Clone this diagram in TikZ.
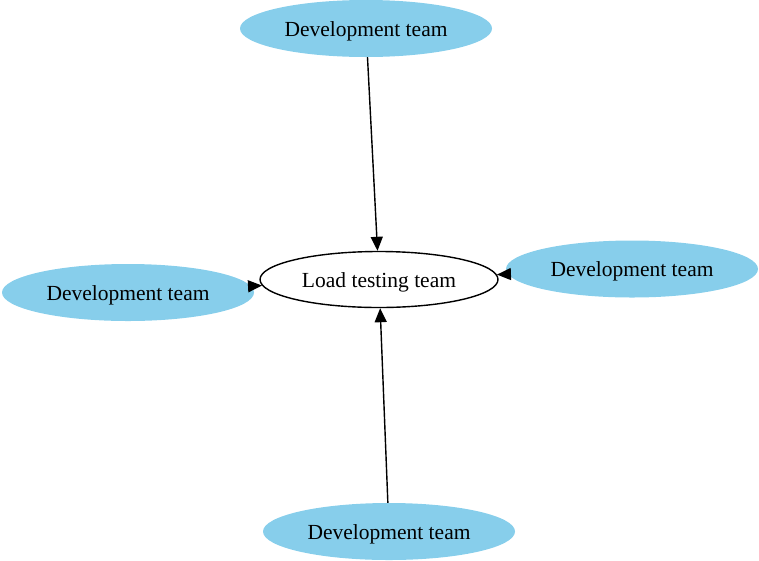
\documentclass[tikz,border=0pt]{standalone}
\usepackage{fontspec}
\setmainfont{Liberation Serif}
\usetikzlibrary{shapes.geometric,arrows.meta}
\definecolor{devblue}{HTML}{87CEEB}
% labels sit a little below the ellipse centre
\newcommand{\teamlabel}[1]{\raisebox{-2.5pt}[\height][\depth]{#1}}
\tikzset{
  team/.style={ellipse, inner sep=0pt, font=\fontsize{21.5}{24}\selectfont},
  devteam/.style={team, fill=devblue, minimum width=252pt, minimum height=57pt},
  loadteam/.style={team, draw=black, line width=1.4pt, fill=white, minimum width=238pt, minimum height=56pt},
  link/.style={draw=black, line width=1.4pt, -{Triangle[length=14pt,width=12pt]}}
}
\begin{document}
\begin{tikzpicture}[x=1pt,y=-1pt]
  \useasboundingbox (0,0) rectangle (759,560);
  \node[loadteam] (load) at (379,279.5) {\teamlabel{Load testing team}};
  \node[devteam] (top) at (366,28.5) {\teamlabel{Development team}};
  \node[devteam] (right) at (632,269) {\teamlabel{Development team}};
  \node[devteam] (left) at (128,292.5) {\teamlabel{Development team}};
  \node[devteam] (bottom) at (389,531.5) {\teamlabel{Development team}};
  \draw[link] (top) -- (load);
  \draw[link] (bottom) -- (load);
  \draw[link] (right) -- (load);
  \draw[link] (left) -- (load);
\end{tikzpicture}
\end{document}
